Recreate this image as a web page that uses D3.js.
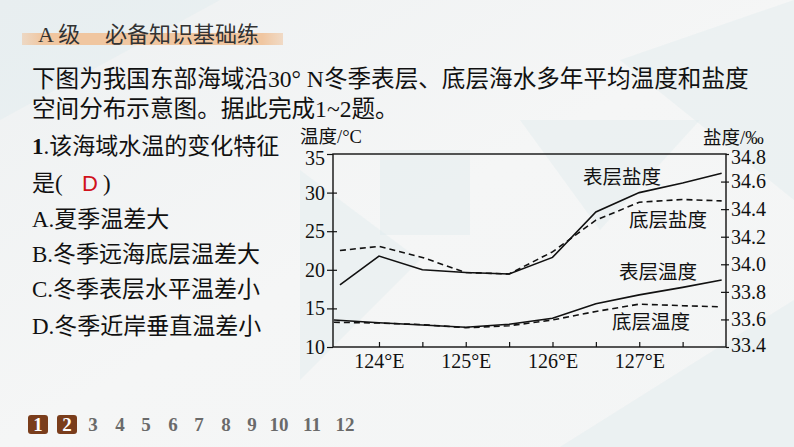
<!DOCTYPE html>
<html><head><meta charset="utf-8">
<script src="https://cdn.jsdelivr.net/npm/d3@7/dist/d3.min.js"></script>
<style>
html,body{margin:0;padding:0;background:#f4f5f5;}
svg{display:block;}
</style></head>
<body>
<svg id="c" width="794" height="447"></svg>
<script>
// ---------- data ----------
const salLon = [123.55, 124, 124.5, 125, 125.5, 126, 126.5, 127, 127.5, 127.95];
const surfaceSal = [33.85, 34.06, 33.96, 33.94, 33.93, 34.05, 34.38, 34.52, 34.59, 34.66];
const bottomSal  = [34.10, 34.13, 34.05, 33.94, 33.93, 34.09, 34.32, 34.45, 34.47, 34.46];
const tempLon = [123.48, 124, 124.5, 125, 125.5, 126, 126.5, 127, 127.5, 127.95];
const surfaceTemp = [13.5, 13.15, 12.85, 12.55, 12.95, 13.72, 15.6, 16.75, 17.72, 18.68];
const bottomTemp  = [13.2, 13.1, 12.9, 12.5, 12.75, 13.5, 14.6, 15.55, 15.35, 15.2];
const tempTicks = [10, 15, 20, 25, 30, 35];
const salTicks = [33.4, 33.6, 33.8, 34.0, 34.2, 34.4, 34.6, 34.8];
const lonTicks = [124, 124.5, 125, 125.5, 126, 126.5, 127, 127.5];
const seriesLabels = ["表层盐度", "底层盐度", "表层温度", "底层温度"];
const pages = ["1","2","3","4","5","6","7","8","9","10","11","12"];

const svg = d3.select("#c");
const SERIF = "'Liberation Serif','Noto Sans CJK SC',serif";
const CJK = "'Liberation Serif','Noto Sans CJK SC',sans-serif";

// ---------- background ----------
const defs = svg.append("defs");
const g1 = defs.append("linearGradient").attr("id","bgg").attr("x1",0).attr("y1",0).attr("x2",1).attr("y2",1);
g1.append("stop").attr("offset","0").attr("stop-color","#eef1f2");
g1.append("stop").attr("offset","0.5").attr("stop-color","#f5f6f6");
g1.append("stop").attr("offset","1").attr("stop-color","#f3f5f5");
svg.append("rect").attr("width",794).attr("height",447).attr("fill","url(#bgg)");
const polys = [
  [[380,150],[470,150],[470,235],[380,235]],
  [[300,170],[420,260],[300,380]],
  [[520,120],[700,120],[600,230]],
  [[560,447],[794,300],[794,447]],
  [[620,60],[794,0],[794,200]],
  [[0,0],[220,0],[0,120]]
];
svg.append("g").selectAll("polygon").data(polys).join("polygon")
  .attr("points", d => d.map(p => p.join(",")).join(" "))
  .attr("fill", "#dfeced").attr("opacity", 0.4);

// ---------- header ----------
const hb = defs.append("linearGradient").attr("id","hb").attr("x1",0).attr("x2",1);
hb.append("stop").attr("offset","0").attr("stop-color","#f0c9a6").attr("stop-opacity",0.6);
hb.append("stop").attr("offset","0.08").attr("stop-color","#f0c6a0");
hb.append("stop").attr("offset","0.92").attr("stop-color","#f0c6a0");
hb.append("stop").attr("offset","1").attr("stop-color","#f0c9a6").attr("stop-opacity",0.6);
svg.append("rect").attr("x",22).attr("y",33).attr("width",261).attr("height",12).attr("fill","url(#hb)");
svg.append("text").attr("x",38).attr("y",42).attr("font-family",CJK).attr("font-size",22).attr("fill","#333").text("A 级");
svg.append("text").attr("x",105).attr("y",42).attr("font-family",CJK).attr("font-size",22).attr("fill","#333").text("必备知识基础练");

// ---------- paragraph ----------
svg.append("text").attr("x",32).attr("y",87).attr("font-family",CJK).attr("font-size",23.6).attr("fill","#111")
  .text("下图为我国东部海域沿30° N冬季表层、底层海水多年平均温度和盐度");
svg.append("text").attr("x",32).attr("y",117).attr("font-family",CJK).attr("font-size",23.6).attr("fill","#111")
  .text("空间分布示意图。据此完成1~2题。");

// ---------- question ----------
const q = svg.append("g").attr("font-family",CJK).attr("font-size",23).attr("fill","#111");
const t1 = q.append("text").attr("x",32).attr("y",154);
t1.append("tspan").attr("font-weight","bold").text("1");
t1.append("tspan").text(".该海域水温的变化特征");
q.append("text").attr("x",32).attr("y",191).text("是(");
q.append("text").attr("x",103).attr("y",191).text(")");
svg.append("text").attr("x",82).attr("y",191).attr("font-family","'Liberation Sans',Arial,sans-serif")
  .attr("font-size",22).attr("fill","#d0121b").text("D");
const opts = ["A.夏季温差大","B.冬季远海底层温差大","C.冬季表层水平温差小","D.冬季近岸垂直温差小"];
const optY = [227, 262, 297, 334];
q.selectAll("text.opt").data(opts).join("text").attr("class","opt")
  .attr("x",32).attr("y",(d,i)=>optY[i]).text(d=>d);

// ---------- chart ----------
const L = 333, R = 726, T = 154, B = 347;
const x = d3.scaleLinear().domain([123.47, 128]).range([L, R]);
const yT = d3.scaleLinear().domain([10, 35]).range([B, T]);
const yS = d3.scaleLinear().domain([33.4, 34.8]).range([B, T]);

const chart = svg.append("g");

function styleAxis(g){
  g.select(".domain").remove();
  g.selectAll("line").attr("stroke","#111").attr("stroke-width",1.2);
  g.selectAll("text").attr("font-family",SERIF).attr("font-size",20).attr("fill","#111");
}
// left axis: labels + outward ticks
const la = chart.append("g").attr("transform",`translate(${L},0)`)
  .call(d3.axisLeft(yT).tickValues(tempTicks).tickSizeInner(6).tickSizeOuter(0).tickPadding(2).tickFormat(d3.format("d")))
  .call(styleAxis);
la.selectAll(".tick").filter(d => d === 35).select("text").attr("y", 4);
chart.append("g").attr("transform",`translate(${L},0)`)
  .call(d3.axisLeft(yT).tickValues(tempTicks.slice(1,-1)).tickSizeInner(-4).tickSizeOuter(0).tickFormat(""))
  .call(styleAxis);
// right axis
const ra = chart.append("g").attr("transform",`translate(${R},0)`)
  .call(d3.axisRight(yS).tickValues(salTicks).tickSizeInner(3).tickSizeOuter(0).tickPadding(2).tickFormat(d3.format(".1f")))
  .call(styleAxis);
ra.selectAll(".tick").filter(d => d === 34.8).select("text").attr("y", 3);
ra.selectAll(".tick").filter(d => d === 33.4).select("text").attr("y", -2);
chart.append("g").attr("transform",`translate(${R},0)`)
  .call(d3.axisRight(yS).tickValues(salTicks.slice(1,-1)).tickSizeInner(-5).tickSizeOuter(0).tickFormat(""))
  .call(styleAxis);
// bottom axis: inward ticks
chart.append("g").attr("transform",`translate(0,${B})`)
  .call(d3.axisBottom(x).tickValues(lonTicks).tickSizeInner(-5).tickSizeOuter(0).tickPadding(7)
    .tickFormat(d => Number.isInteger(d) ? d + "°E" : ""))
  .call(styleAxis);

// frame
chart.append("rect").attr("x",L).attr("y",T).attr("width",R-L).attr("height",B-T)
  .attr("fill","none").attr("stroke","#111").attr("stroke-width",1.4);

// lines
const lineS = d3.line().x((d,i)=>x(salLon[i])).y(d=>yS(d));
const lineT = d3.line().x((d,i)=>x(tempLon[i])).y(d=>yT(d));
chart.append("path").attr("d",lineS(surfaceSal)).attr("fill","none").attr("stroke","#111").attr("stroke-width",1.6);
chart.append("path").attr("d",lineS(bottomSal)).attr("fill","none").attr("stroke","#111").attr("stroke-width",1.6).attr("stroke-dasharray","6,4");
chart.append("path").attr("d",lineT(surfaceTemp)).attr("fill","none").attr("stroke","#111").attr("stroke-width",1.6);
chart.append("path").attr("d",lineT(bottomTemp)).attr("fill","none").attr("stroke","#111").attr("stroke-width",1.6).attr("stroke-dasharray","6,4");

// series labels
const labPos = [[622,177],[668,220],[658,272],[651,322]];
chart.selectAll("text.lab").data(seriesLabels).join("text").attr("class","lab")
  .attr("x",(d,i)=>labPos[i][0]).attr("y",(d,i)=>labPos[i][1]+7)
  .attr("text-anchor","middle").attr("font-family",CJK).attr("font-size",19.5).attr("fill","#111")
  .text(d=>d);

// axis titles
chart.append("text").attr("x",300).attr("y",143).attr("font-family",CJK).attr("font-size",18.5).attr("fill","#111").text("温度/°C");
chart.append("text").attr("x",703).attr("y",144).attr("font-family",CJK).attr("font-size",18.5).attr("fill","#111").text("盐度/‰");

// ---------- pagination ----------
const pageX = [38, 67, 93, 120, 146, 173, 199, 226, 252, 279, 312, 345];
const pg = svg.append("g");
pg.selectAll("rect").data(pages.slice(0,2)).join("rect")
  .attr("x",(d,i)=>pageX[i]-10).attr("y",415).attr("width",20).attr("height",19).attr("rx",3)
  .attr("fill","#7a3d1b");
pg.selectAll("text").data(pages).join("text")
  .attr("x",(d,i)=>pageX[i]).attr("y",431).attr("text-anchor","middle")
  .attr("font-family",SERIF).attr("font-weight","bold").attr("font-size",19)
  .attr("fill",(d,i)=> i<2 ? "#ffffff" : "#6a6a6a").text(d=>d);
</script>
</body></html>
